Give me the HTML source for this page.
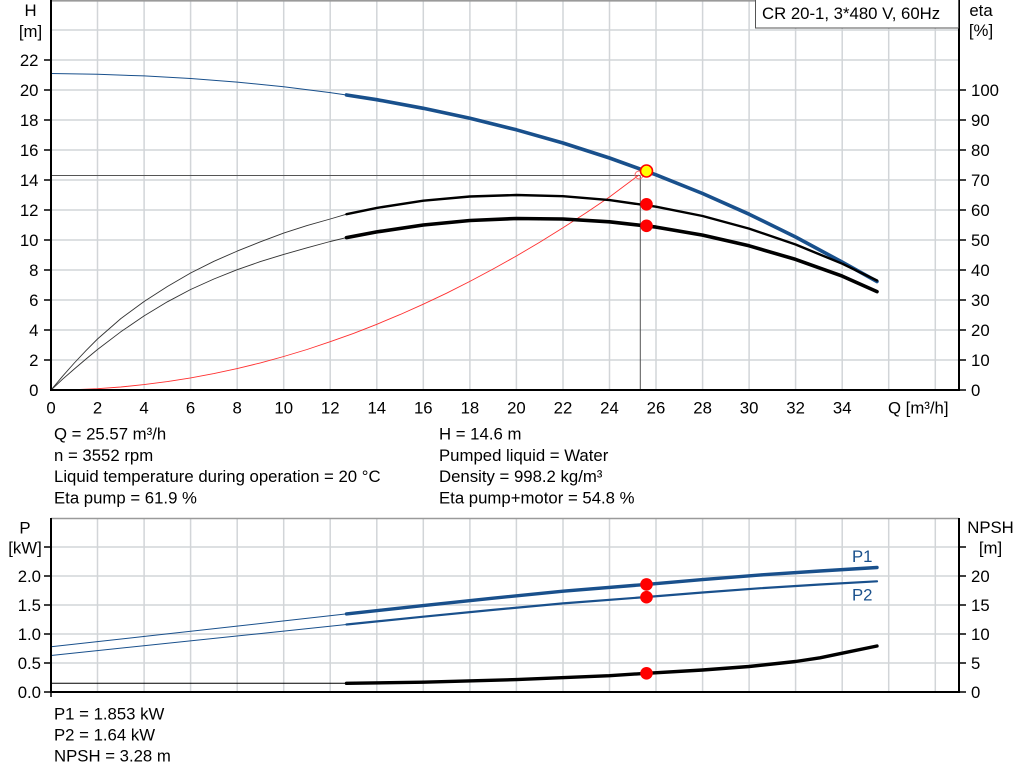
<!DOCTYPE html>
<html><head><meta charset="utf-8"><style>
html,body{margin:0;padding:0;background:#fff;}
svg{display:block;}
text{font-family:"Liberation Sans",Arial,sans-serif;font-size:16.75px;fill:#000;}
</style></head><body>
<svg width="1024" height="781" viewBox="0 0 1024 781" xmlns="http://www.w3.org/2000/svg">
<rect width="1024" height="781" fill="#fff"/>
<!-- ===== TOP CHART GRID ===== -->
<g stroke="#d2d5d8" stroke-width="1.5">
<line x1="97.5" y1="0" x2="97.5" y2="390"/><line x1="144.1" y1="0" x2="144.1" y2="390"/><line x1="190.6" y1="0" x2="190.6" y2="390"/><line x1="237.2" y1="0" x2="237.2" y2="390"/><line x1="283.7" y1="0" x2="283.7" y2="390"/><line x1="330.2" y1="0" x2="330.2" y2="390"/><line x1="376.8" y1="0" x2="376.8" y2="390"/><line x1="423.3" y1="0" x2="423.3" y2="390"/><line x1="469.9" y1="0" x2="469.9" y2="390"/><line x1="516.4" y1="0" x2="516.4" y2="390"/><line x1="563" y1="0" x2="563" y2="390"/><line x1="609.5" y1="0" x2="609.5" y2="390"/><line x1="656" y1="0" x2="656" y2="390"/><line x1="702.6" y1="0" x2="702.6" y2="390"/><line x1="749.1" y1="0" x2="749.1" y2="390"/><line x1="795.6" y1="0" x2="795.6" y2="390"/><line x1="842.2" y1="0" x2="842.2" y2="390"/><line x1="888.7" y1="0" x2="888.7" y2="390"/><line x1="935.3" y1="0" x2="935.3" y2="390"/>
<line x1="51" y1="30" x2="959" y2="30"/><line x1="51" y1="60" x2="959" y2="60"/><line x1="51" y1="90" x2="959" y2="90"/><line x1="51" y1="120" x2="959" y2="120"/><line x1="51" y1="150" x2="959" y2="150"/><line x1="51" y1="180" x2="959" y2="180"/><line x1="51" y1="210" x2="959" y2="210"/><line x1="51" y1="240" x2="959" y2="240"/><line x1="51" y1="270" x2="959" y2="270"/><line x1="51" y1="300" x2="959" y2="300"/><line x1="51" y1="330" x2="959" y2="330"/><line x1="51" y1="360" x2="959" y2="360"/>
</g>
<line x1="51" y1="0.8" x2="959" y2="0.8" stroke="#9a9a9a" stroke-width="1.6"/>
<!-- operating lines -->
<line x1="51" y1="175.5" x2="640.3" y2="175.5" stroke="#555" stroke-width="1"/>
<line x1="640.3" y1="175.5" x2="640.3" y2="390" stroke="#555" stroke-width="1"/>
<!-- system curve (red) -->
<polyline fill="none" stroke="#ff3030" stroke-width="0.9" stroke-linejoin="round" points="51,390 74.3,389.7 97.5,388.7 120.8,387 144.1,384.6 167.4,381.6 190.6,377.9 213.9,373.6 237.2,368.6 260.4,362.9 283.7,356.5 307,349.5 330.2,341.7 353.5,333.4 376.8,324.3 400,314.6 423.3,304.2 446.6,293.2 469.9,281.4 493.1,269 516.4,256 539.7,242.2 563,227.8 586.2,212.8 609.5,197 639,175"/>
<circle cx="639" cy="175" r="4" fill="none" stroke="#ff6060" stroke-width="0.9"/>
<!-- H curve -->
<polyline fill="none" stroke="#19508c" stroke-width="1" stroke-linejoin="round" points="51,73.5 97.5,74.3 144.1,75.9 190.6,78.5 237.2,82.1 283.7,86.7 330.2,92.6 346.5,95"/>
<polyline fill="none" stroke="#19508c" stroke-width="3.6" stroke-linecap="round" stroke-linejoin="round" points="346.5,95 376.8,99.7 423.3,108.3 469.9,118.3 516.4,129.8 563,143 609.5,158 656,174.8 702.6,193.5 749.1,214.2 795.6,237 842.2,262.1 877,281.5"/>
<!-- eta pump -->
<polyline fill="none" stroke="#333" stroke-width="0.9" stroke-linejoin="round" points="51,390 62.6,376.2 74.3,363 85.9,350.7 97.5,339 120.8,318.6 144.1,301.5 167.4,286.5 190.6,273 213.9,261.3 237.2,251.1 260.4,241.8 283.7,233.1 307,225.6 330.2,219 346.5,214.2"/>
<polyline fill="none" stroke="#000" stroke-width="2.4" stroke-linecap="round" stroke-linejoin="round" points="346.5,214.2 376.8,207.9 423.3,200.7 469.9,196.5 516.4,195 563,196.2 609.5,200.1 656,206.7 702.6,216 749.1,228.6 795.6,244.5 842.2,263.7 877,280.5"/>
<!-- eta pump+motor -->
<polyline fill="none" stroke="#333" stroke-width="0.9" stroke-linejoin="round" points="51,390 62.6,379.2 74.3,369 85.9,359.1 97.5,349.5 120.8,331.8 144.1,315.9 167.4,301.8 190.6,289.5 213.9,279 237.2,269.7 260.4,261.6 283.7,254.4 307,247.8 330.2,241.5 346.5,237.6"/>
<polyline fill="none" stroke="#000" stroke-width="3.6" stroke-linecap="round" stroke-linejoin="round" points="346.5,237.6 376.8,231.9 423.3,225 469.9,220.5 516.4,218.5 563,219 609.5,221.8 656,227.1 702.6,235.1 749.1,245.8 795.6,259.4 842.2,276.1 877,291.6"/>
<!-- markers -->
<circle cx="646.5" cy="204.3" r="6.3" fill="#ff0000"/>
<circle cx="646.5" cy="225.8" r="6.3" fill="#ff0000"/>
<circle cx="646.5" cy="171" r="6" fill="#ffff00" stroke="#ff0000" stroke-width="1.6"/>
<!-- axes -->
<g stroke="#000" stroke-width="2">
<line x1="51" y1="0" x2="51" y2="391"/>
<line x1="50" y1="390" x2="960" y2="390"/>
<line x1="959" y1="0" x2="959" y2="391"/>
</g>
<g stroke="#000" stroke-width="1.5">
<line x1="44" y1="60" x2="51" y2="60"/><line x1="44" y1="90" x2="51" y2="90"/><line x1="44" y1="120" x2="51" y2="120"/><line x1="44" y1="150" x2="51" y2="150"/><line x1="44" y1="180" x2="51" y2="180"/><line x1="44" y1="210" x2="51" y2="210"/><line x1="44" y1="240" x2="51" y2="240"/><line x1="44" y1="270" x2="51" y2="270"/><line x1="44" y1="300" x2="51" y2="300"/><line x1="44" y1="330" x2="51" y2="330"/><line x1="44" y1="360" x2="51" y2="360"/>
<line x1="959" y1="90" x2="966" y2="90"/><line x1="959" y1="120" x2="966" y2="120"/><line x1="959" y1="150" x2="966" y2="150"/><line x1="959" y1="180" x2="966" y2="180"/><line x1="959" y1="210" x2="966" y2="210"/><line x1="959" y1="240" x2="966" y2="240"/><line x1="959" y1="270" x2="966" y2="270"/><line x1="959" y1="300" x2="966" y2="300"/><line x1="959" y1="330" x2="966" y2="330"/><line x1="959" y1="360" x2="966" y2="360"/><line x1="959" y1="390" x2="966" y2="390"/>
</g>
<!-- legend box -->
<rect x="755.5" y="-1" width="203" height="29" fill="#fff" stroke="#555" stroke-width="1"/>
<text x="762" y="19">CR 20-1, 3*480 V, 60Hz</text>
<!-- axis labels top -->
<text x="30.5" y="16" text-anchor="middle">H</text>
<text x="30.5" y="37" text-anchor="middle">[m]</text>
<text x="981" y="16" text-anchor="middle">eta</text>
<text x="981" y="36" text-anchor="middle">[%]</text>
<g text-anchor="end">
<text x="38.5" y="66">22</text><text x="38.5" y="96">20</text><text x="38.5" y="126">18</text><text x="38.5" y="156">16</text><text x="38.5" y="186">14</text><text x="38.5" y="216">12</text><text x="38.5" y="246">10</text><text x="38.5" y="276">8</text><text x="38.5" y="306">6</text><text x="38.5" y="336">4</text><text x="38.5" y="366">2</text><text x="38.5" y="396">0</text>
</g>
<g>
<text x="971" y="96">100</text><text x="971" y="126">90</text><text x="971" y="156">80</text><text x="971" y="186">70</text><text x="971" y="216">60</text><text x="971" y="246">50</text><text x="971" y="276">40</text><text x="971" y="306">30</text><text x="971" y="336">20</text><text x="971" y="366">10</text><text x="971" y="396">0</text>
</g>
<g text-anchor="middle">
<text x="51" y="413.5">0</text><text x="97.5" y="413.5">2</text><text x="144.1" y="413.5">4</text><text x="190.6" y="413.5">6</text><text x="237.2" y="413.5">8</text><text x="283.7" y="413.5">10</text><text x="330.2" y="413.5">12</text><text x="376.8" y="413.5">14</text><text x="423.3" y="413.5">16</text><text x="469.9" y="413.5">18</text><text x="516.4" y="413.5">20</text><text x="563" y="413.5">22</text><text x="609.5" y="413.5">24</text><text x="656" y="413.5">26</text><text x="702.6" y="413.5">28</text><text x="749.1" y="413.5">30</text><text x="795.6" y="413.5">32</text><text x="842.2" y="413.5">34</text>
</g>
<text x="888" y="413.5">Q [m³/h]</text>
<!-- info text -->
<text x="54" y="439.5">Q = 25.57 m³/h</text>
<text x="54" y="461">n = 3552 rpm</text>
<text x="54" y="482">Liquid temperature during operation = 20 °C</text>
<text x="54" y="503.5">Eta pump = 61.9 %</text>
<text x="439" y="439.5">H = 14.6 m</text>
<text x="439" y="461">Pumped liquid = Water</text>
<text x="439" y="482">Density = 998.2 kg/m³</text>
<text x="439" y="503.5">Eta pump+motor = 54.8 %</text>
<!-- ===== BOTTOM CHART ===== -->
<g stroke="#d2d5d8" stroke-width="1.5">
<line x1="97.5" y1="518" x2="97.5" y2="692"/><line x1="144.1" y1="518" x2="144.1" y2="692"/><line x1="190.6" y1="518" x2="190.6" y2="692"/><line x1="237.2" y1="518" x2="237.2" y2="692"/><line x1="283.7" y1="518" x2="283.7" y2="692"/><line x1="330.2" y1="518" x2="330.2" y2="692"/><line x1="376.8" y1="518" x2="376.8" y2="692"/><line x1="423.3" y1="518" x2="423.3" y2="692"/><line x1="469.9" y1="518" x2="469.9" y2="692"/><line x1="516.4" y1="518" x2="516.4" y2="692"/><line x1="563" y1="518" x2="563" y2="692"/><line x1="609.5" y1="518" x2="609.5" y2="692"/><line x1="656" y1="518" x2="656" y2="692"/><line x1="702.6" y1="518" x2="702.6" y2="692"/><line x1="749.1" y1="518" x2="749.1" y2="692"/><line x1="795.6" y1="518" x2="795.6" y2="692"/><line x1="842.2" y1="518" x2="842.2" y2="692"/><line x1="888.7" y1="518" x2="888.7" y2="692"/><line x1="935.3" y1="518" x2="935.3" y2="692"/>
<line x1="51" y1="547" x2="959" y2="547"/><line x1="51" y1="576" x2="959" y2="576"/><line x1="51" y1="605" x2="959" y2="605"/><line x1="51" y1="634" x2="959" y2="634"/><line x1="51" y1="663" x2="959" y2="663"/>
</g>
<line x1="51" y1="518.5" x2="959" y2="518.5" stroke="#9a9a9a" stroke-width="1.6"/>
<!-- P1 -->
<line x1="51" y1="646.8" x2="346.5" y2="613.9" stroke="#19508c" stroke-width="1"/>
<polyline fill="none" stroke="#19508c" stroke-width="3.4" stroke-linecap="round" stroke-linejoin="round" points="346.5,613.9 423.3,605.6 493,598.2 563,591.2 646.5,584.4 702.6,579.6 760.7,574.9 820,571 877,567.5"/>
<!-- P2 -->
<line x1="51" y1="655.5" x2="346.5" y2="624.5" stroke="#19508c" stroke-width="1"/>
<polyline fill="none" stroke="#19508c" stroke-width="2.2" stroke-linecap="round" stroke-linejoin="round" points="346.5,624.5 423.3,616.7 493,609.9 563,603.4 646.5,597 702.6,592.5 760.7,588.2 820,584.5 877,581.3"/>
<!-- NPSH -->
<line x1="51" y1="683.3" x2="346.5" y2="683.3" stroke="#000" stroke-width="1"/>
<polyline fill="none" stroke="#000" stroke-width="3.4" stroke-linecap="round" stroke-linejoin="round" points="346.5,683.3 423.3,682.2 516.4,679.6 609.5,675.7 646.5,673.3 702.6,670 749.1,666.5 795.6,661.5 820,657.8 842.2,653.2 877,646"/>
<circle cx="646.5" cy="584.4" r="6.3" fill="#ff0000"/>
<circle cx="646.5" cy="597.2" r="6.3" fill="#ff0000"/>
<circle cx="646.5" cy="673.3" r="6.3" fill="#ff0000"/>
<text x="852" y="562" style="fill:#19508c">P1</text>
<text x="852" y="600.5" style="fill:#19508c">P2</text>
<g stroke="#000" stroke-width="2">
<line x1="51" y1="518" x2="51" y2="693"/>
<line x1="50" y1="692" x2="960" y2="692"/>
<line x1="959" y1="518" x2="959" y2="693"/>
</g>
<g stroke="#000" stroke-width="1.5">
<line x1="44" y1="547" x2="51" y2="547"/><line x1="44" y1="576" x2="51" y2="576"/><line x1="44" y1="605" x2="51" y2="605"/><line x1="44" y1="634" x2="51" y2="634"/><line x1="44" y1="663" x2="51" y2="663"/><line x1="44" y1="692" x2="51" y2="692"/>
<line x1="959" y1="547" x2="966" y2="547"/><line x1="959" y1="576" x2="966" y2="576"/><line x1="959" y1="605" x2="966" y2="605"/><line x1="959" y1="634" x2="966" y2="634"/><line x1="959" y1="663" x2="966" y2="663"/><line x1="959" y1="692" x2="966" y2="692"/>
<line x1="51" y1="692" x2="51" y2="697"/>
</g>
<text x="25" y="533.5" text-anchor="middle">P</text>
<text x="25" y="553.5" text-anchor="middle">[kW]</text>
<text x="990.5" y="533" text-anchor="middle">NPSH</text>
<text x="990.5" y="553.5" text-anchor="middle">[m]</text>
<g text-anchor="end">
<text x="41" y="582">2.0</text><text x="41" y="611">1.5</text><text x="41" y="640">1.0</text><text x="41" y="669">0.5</text><text x="41" y="698">0.0</text>
</g>
<g>
<text x="971" y="582">20</text><text x="971" y="611">15</text><text x="971" y="640">10</text><text x="971" y="669">5</text><text x="971" y="698">0</text>
</g>
<text x="54" y="719.5">P1 = 1.853 kW</text>
<text x="54" y="740.5">P2 = 1.64 kW</text>
<text x="54" y="761.5">NPSH = 3.28 m</text>
</svg>
</body></html>
